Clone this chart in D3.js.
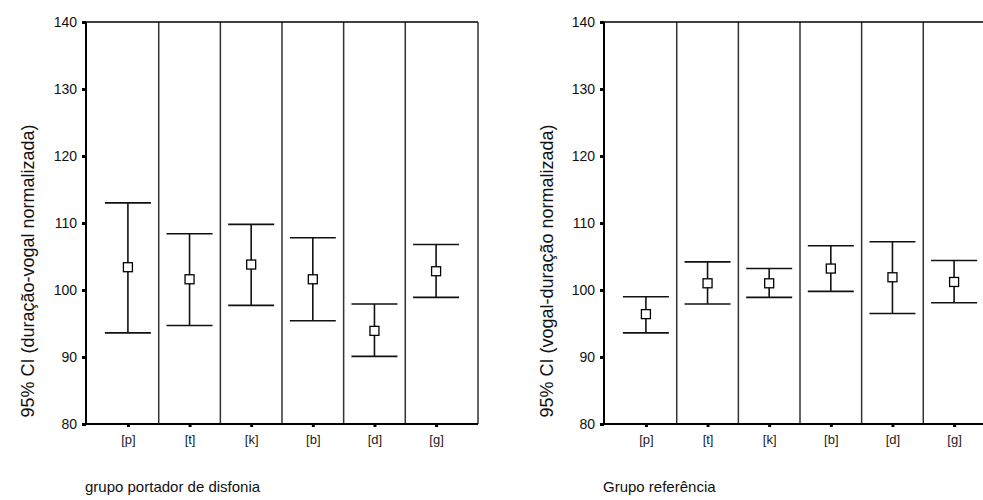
<!DOCTYPE html>
<html>
<head>
<meta charset="utf-8">
<script src="https://cdn.jsdelivr.net/npm/d3@7"></script>
<style>
    body { margin: 0; background: #fff; }
    svg { display: block; font-family: "Liberation Sans", Arial, sans-serif; }
</style>
</head>
<body>
<div id="chart"></div>
<script>
// categories (consonants)
const cats = ["[p]", "[t]", "[k]", "[b]", "[d]", "[g]"];
const yTicks = [80, 90, 100, 110, 120, 130, 140];

// grupo portador de disfonia
const disfMean = [103.4, 101.6, 103.8, 101.6, 93.9, 102.8];
const disfLow  = [93.6, 94.7, 97.7, 95.4, 90.1, 98.9];
const disfHigh = [113.0, 108.4, 109.8, 107.8, 97.9, 106.8];

// grupo referência
const refMean = [96.4, 101.0, 101.0, 103.2, 101.9, 101.2];
const refLow  = [93.6, 97.9, 98.9, 99.8, 96.5, 98.1];
const refHigh = [99.0, 104.2, 103.2, 106.6, 107.2, 104.4];

const W = 983, H = 500;
const svg = d3.select("#chart").append("svg")
    .attr("width", W)
    .attr("height", H);

const plotTop = 22, plotBottom = 424, panelW = 392;

const y = d3.scaleLinear().domain([80, 140]).range([plotBottom, plotTop]);

function drawPanel(x0, mean, low, high, yLabel, title, labelX) {
    let g = svg.append("g");

    let x = d3.scalePoint()
        .domain(cats)
        .range([x0, x0 + panelW])
        .padding(0.68);
    let step = x.step();

    // y axis ticks
    let yAxis = g.append("g")
        .attr("transform", "translate(" + x0 + ",0)")
        .call(d3.axisLeft(y).tickValues(yTicks).tickSize(4).tickPadding(5));
    yAxis.select(".domain").remove();
    yAxis.selectAll("line").attr("stroke", "#000").attr("stroke-width", 3);
    yAxis.selectAll("text")
        .style("font-size", "14px")
        .attr("fill", "#111")
        .style("font-family", "Liberation Sans, Arial, sans-serif");

    // x axis ticks
    let xAxis = g.append("g")
        .attr("transform", "translate(0," + plotBottom + ")")
        .call(d3.axisBottom(x).tickSize(3).tickPadding(8));
    xAxis.select(".domain").remove();
    xAxis.selectAll("line").attr("stroke", "#000").attr("stroke-width", 3);
    xAxis.selectAll("text")
        .style("font-size", "13px")
        .attr("fill", "#222")
        .style("font-family", "Liberation Sans, Arial, sans-serif");

    // dividers between categories
    g.selectAll(".divider")
        .data(cats.slice(0, -1))
        .enter()
        .append("line")
        .attr("x1", d => x(d) + step / 2)
        .attr("x2", d => x(d) + step / 2)
        .attr("y1", plotTop)
        .attr("y2", plotBottom)
        .attr("stroke", "#333")
        .attr("stroke-width", 1.5);

    // frame
    g.append("line")
        .attr("x1", x0).attr("x2", x0 + panelW)
        .attr("y1", plotTop).attr("y2", plotTop)
        .attr("stroke", "#000").attr("stroke-width", 1.5);
    g.append("line")
        .attr("x1", x0 + panelW).attr("x2", x0 + panelW)
        .attr("y1", plotTop).attr("y2", plotBottom)
        .attr("stroke", "#333").attr("stroke-width", 1.5);
    g.append("line")
        .attr("x1", x0).attr("x2", x0)
        .attr("y1", plotTop).attr("y2", plotBottom + 1)
        .attr("stroke", "#000").attr("stroke-width", 2);
    g.append("line")
        .attr("x1", x0).attr("x2", x0 + panelW)
        .attr("y1", plotBottom).attr("y2", plotBottom)
        .attr("stroke", "#000").attr("stroke-width", 2);

    // error bars
    let bars = g.selectAll(".ci")
        .data(cats)
        .enter()
        .append("g");

    bars.append("line")
        .attr("x1", d => x(d)).attr("x2", d => x(d))
        .attr("y1", (d, i) => y(high[i]))
        .attr("y2", (d, i) => y(low[i]))
        .attr("stroke", "#111").attr("stroke-width", 1.6);
    bars.append("line")
        .attr("x1", d => x(d) - 23).attr("x2", d => x(d) + 23)
        .attr("y1", (d, i) => y(high[i]))
        .attr("y2", (d, i) => y(high[i]))
        .attr("stroke", "#111").attr("stroke-width", 1.6);
    bars.append("line")
        .attr("x1", d => x(d) - 23).attr("x2", d => x(d) + 23)
        .attr("y1", (d, i) => y(low[i]))
        .attr("y2", (d, i) => y(low[i]))
        .attr("stroke", "#111").attr("stroke-width", 1.6);
    bars.append("rect")
        .attr("x", d => x(d) - 4.5)
        .attr("y", (d, i) => y(mean[i]) - 4.5)
        .attr("width", 9)
        .attr("height", 9)
        .attr("fill", "#fff")
        .attr("stroke", "#000")
        .attr("stroke-width", 1.3);

    // y label
    g.append("text")
        .attr("transform", "translate(" + labelX + "," + 271 + ") rotate(-90)")
        .attr("text-anchor", "middle")
        .attr("font-size", "18px")
        .attr("fill", "#111")
        .text(yLabel);

    // group title
    g.append("text")
        .attr("x", x0 - 1)
        .attr("y", 492)
        .attr("font-size", "15px")
        .attr("fill", "#111")
        .text(title);
}

drawPanel(86, disfMean, disfLow, disfHigh, "95% CI (duração-vogal normalizada)", "grupo portador de disfonia", 34);
drawPanel(604, refMean, refLow, refHigh, "95% CI (vogal-duração normalizada)", "Grupo referência", 553);
</script>
</body>
</html>
